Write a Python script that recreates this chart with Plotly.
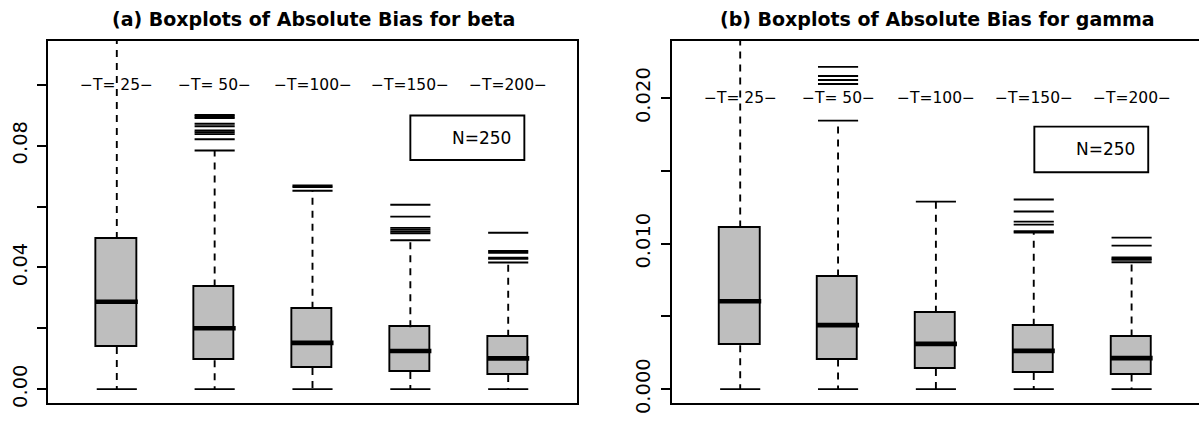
import plotly.graph_objects as go

# ---------------- data ----------------
positions = [1, 2, 3, 4, 5]
t_labels = ["\u2212T= 25\u2212", "\u2212T= 50\u2212", "\u2212T=100\u2212", "\u2212T=150\u2212", "\u2212T=200\u2212"]

# panel (a): absolute bias for beta
beta_q1 = [0.0138, 0.0095, 0.0069, 0.0056, 0.0046]
beta_med = [0.0287, 0.0200, 0.0152, 0.0125, 0.0101]
beta_q3 = [0.0493, 0.0337, 0.0264, 0.0203, 0.0172]
beta_lo = [0.0, 0.0, 0.0, 0.0, 0.0]
beta_hi = [0.1180, 0.0784, 0.0652, 0.0489, 0.0416]
beta_out = [
    [],
    [0.0821, 0.0838, 0.0844, 0.0850, 0.0864, 0.0872, 0.0891, 0.0896, 0.0901],
    [0.0664, 0.0669],
    [0.0512, 0.0518, 0.0524, 0.0530, 0.0567, 0.0606],
    [0.0428, 0.0432, 0.0448, 0.0454, 0.0514],
]

# panel (b): absolute bias for gamma
gamma_q1 = [0.00302, 0.00203, 0.00139, 0.00110, 0.00100]
gamma_med = [0.00604, 0.00440, 0.00311, 0.00263, 0.00213]
gamma_q3 = [0.01110, 0.00773, 0.00524, 0.00435, 0.00361]
gamma_lo = [0.0, 0.0, 0.0, 0.0, 0.0]
gamma_hi = [0.0245, 0.01845, 0.01288, 0.01076, 0.00872]
gamma_out = [
    [],
    [0.02097, 0.02124, 0.02152, 0.02214],
    [],
    [0.01085, 0.01130, 0.01151, 0.01220, 0.01303],
    [0.00888, 0.00896, 0.00904, 0.00986, 0.01041],
]

beta_ticks = [0.0, 0.02, 0.04, 0.06, 0.08, 0.10]
beta_ticktext = ["0.00", "", "0.04", "", "0.08", ""]
gamma_ticks = [0.0, 0.005, 0.010, 0.015, 0.020]
gamma_ticktext = ["0.000", "", "0.010", "", "0.020"]

titles = ["(a) Boxplots of Absolute Bias for beta", "(b) Boxplots of Absolute Bias for gamma"]
legend_text = "N=250"

# ---------------- styling ----------------
HALF = 0.205
BOX_FILL = "#BEBEBE"
LW = 1.9
FONT = "DejaVu Sans"

fig = go.Figure()


def add_panel(xa, ya, q1, med, q3, lo, hi, outs):
    # boxes
    fig.add_trace(go.Bar(
        x=positions, y=[b - a for a, b in zip(q1, q3)], base=q1, width=2 * HALF,
        marker=dict(color=BOX_FILL, line=dict(color="black", width=LW)),
        xaxis=xa, yaxis=ya, showlegend=False, hoverinfo="skip"))
    # whiskers (dashed)
    wx, wy = [], []
    for p, a, b, l, h in zip(positions, q1, q3, lo, hi):
        wx += [p, p, None, p, p, None]
        wy += [b, h, None, a, l, None]
    fig.add_trace(go.Scatter(x=wx, y=wy, mode="lines",
                             line=dict(color="black", width=LW, dash="7px,6px"),
                             xaxis=xa, yaxis=ya, showlegend=False, hoverinfo="skip"))
    # staples + outliers (horizontal segments)
    sx, sy = [], []
    for p, l, h, o in zip(positions, lo, hi, outs):
        for v in [l, h] + list(o):
            sx += [p - HALF, p + HALF, None]
            sy += [v, v, None]
    fig.add_trace(go.Scatter(x=sx, y=sy, mode="lines",
                             line=dict(color="black", width=LW),
                             xaxis=xa, yaxis=ya, showlegend=False, hoverinfo="skip"))
    # medians
    mx, my = [], []
    for p, m in zip(positions, med):
        mx += [p - HALF - 0.01, p + HALF + 0.01, None]
        my += [m, m, None]
    fig.add_trace(go.Scatter(x=mx, y=my, mode="lines",
                             line=dict(color="black", width=4.6),
                             xaxis=xa, yaxis=ya, showlegend=False, hoverinfo="skip"))


add_panel("x", "y", beta_q1, beta_med, beta_q3, beta_lo, beta_hi, beta_out)
add_panel("x2", "y2", gamma_q1, gamma_med, gamma_q3, gamma_lo, gamma_hi, gamma_out)

annotations = []
# T labels
for p, lab in zip(positions, t_labels):
    annotations.append(dict(x=p, y=0.10, xref="x", yref="y", text=lab, showarrow=False,
                            font=dict(family=FONT, size=15.5, color="black"),
                            xanchor="center", yanchor="middle"))
    annotations.append(dict(x=p, y=0.020, xref="x2", yref="y2", text=lab, showarrow=False,
                            font=dict(family=FONT, size=15.5, color="black"),
                            xanchor="center", yanchor="middle"))
# legend texts
annotations.append(dict(x=5.046, y=0.0826, xref="x", yref="y", text=legend_text, showarrow=False,
                        font=dict(family=FONT, size=17, color="black"),
                        xanchor="right", yanchor="middle"))
annotations.append(dict(x=5.052, y=0.01647, xref="x2", yref="y2", text=legend_text, showarrow=False,
                        font=dict(family=FONT, size=17, color="black"),
                        xanchor="right", yanchor="middle"))
# titles
annotations.append(dict(x=313 / 1199, y=1 - 19 / 421, xref="paper", yref="paper", text="<b>" + titles[0] + "</b>",
                        showarrow=False, font=dict(family=FONT, size=19, color="black"),
                        xanchor="center", yanchor="middle"))
annotations.append(dict(x=937 / 1199, y=1 - 19 / 421, xref="paper", yref="paper", text="<b>" + titles[1] + "</b>",
                        showarrow=False, font=dict(family=FONT, size=19, color="black"),
                        xanchor="center", yanchor="middle"))

shapes = [
    dict(type="rect", xref="x", yref="y", x0=4.0, x1=5.165, y0=0.0753, y1=0.0899,
         line=dict(color="black", width=LW), fillcolor="rgba(0,0,0,0)", layer="above"),
    dict(type="rect", xref="x2", yref="y2", x0=4.006, x1=5.17, y0=0.014904, y1=0.018036,
         line=dict(color="black", width=LW), fillcolor="rgba(0,0,0,0)", layer="above"),
]

ydom = [(421 - 402.5) / 421, (421 - 41) / 421]
common_x = dict(showticklabels=False, ticks="", showgrid=False, zeroline=False,
                showline=True, mirror=True, linecolor="black", linewidth=2, automargin=False)
common_y = dict(tickangle=-90, ticks="outside", ticklen=9, tickwidth=LW, tickcolor="black",
                showline=True, linecolor="black", linewidth=2, showgrid=False, zeroline=False,
                tickfont=dict(family=FONT, size=19.5, color="black"), automargin=False,
                ticklabelstandoff=3)

fig.update_layout(
    width=1199, height=421,
    margin=dict(l=0, r=0, t=0, b=0),
    template="none",
    paper_bgcolor="white", plot_bgcolor="white",
    showlegend=False,
    bargap=0,
    xaxis=dict(domain=[48.3 / 1199, 576.7 / 1199], range=[0.3, 5.7], anchor="y", **common_x),
    yaxis=dict(domain=ydom, range=[-0.0044, 0.1144], anchor="x", mirror=True,
               tickvals=beta_ticks, ticktext=beta_ticktext, **common_y),
    xaxis2=dict(domain=[671.7 / 1199, 1.0], range=[0.3, 5.6888], anchor="y2", **common_x),
    yaxis2=dict(domain=ydom, range=[-0.00092, 0.02392], anchor="x2", mirror=False,
                tickvals=gamma_ticks, ticktext=gamma_ticktext, **common_y),
    annotations=annotations,
    shapes=shapes,
)

fig.write_html("out.html")
